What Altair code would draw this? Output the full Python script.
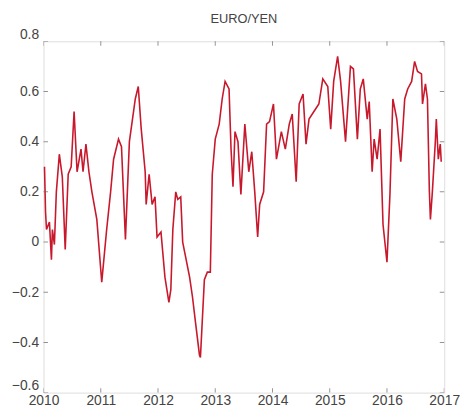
import altair as alt
import pandas as pd

# decimal-year positions and EURO/YEN values
years = [2010.017, 2010.035, 2010.052, 2010.103, 2010.138, 2010.155, 2010.190, 2010.224, 2010.276,
         2010.328, 2010.379, 2010.431, 2010.483, 2010.534, 2010.586, 2010.655, 2010.690, 2010.741,
         2010.793, 2010.845, 2010.931, 2011.017, 2011.103, 2011.172, 2011.224, 2011.310, 2011.362,
         2011.431, 2011.500, 2011.603, 2011.655, 2011.707, 2011.776, 2011.793, 2011.845, 2011.897,
         2011.948, 2011.983, 2012.052, 2012.121, 2012.190, 2012.224, 2012.259, 2012.310, 2012.345,
         2012.397, 2012.431, 2012.483, 2012.552, 2012.603, 2012.655, 2012.724, 2012.741, 2012.810,
         2012.862, 2012.914, 2012.948, 2013.000, 2013.069, 2013.121, 2013.172, 2013.241, 2013.276,
         2013.310, 2013.345, 2013.397, 2013.448, 2013.517, 2013.586, 2013.638, 2013.690, 2013.741,
         2013.776, 2013.845, 2013.897, 2013.948, 2014.017, 2014.069, 2014.155, 2014.224, 2014.293,
         2014.345, 2014.414, 2014.466, 2014.534, 2014.586, 2014.638, 2014.724, 2014.810, 2014.879,
         2014.966, 2015.017, 2015.069, 2015.138, 2015.190, 2015.276, 2015.362, 2015.414, 2015.483,
         2015.534, 2015.586, 2015.655, 2015.690, 2015.741, 2015.776, 2015.828, 2015.879, 2015.931,
         2016.000, 2016.052, 2016.103, 2016.172, 2016.241, 2016.310, 2016.362, 2016.431, 2016.483,
         2016.534, 2016.603, 2016.621, 2016.672, 2016.707, 2016.741, 2016.759, 2016.793, 2016.845,
         2016.862, 2016.897, 2016.931, 2016.948]
values = [0.30, 0.12, 0.05, 0.08, -0.07, 0.05, -0.01, 0.20, 0.35,
          0.26, -0.03, 0.27, 0.30, 0.52, 0.28, 0.37, 0.28, 0.39,
          0.28, 0.20, 0.09, -0.16, 0.05, 0.20, 0.33, 0.41, 0.38,
          0.01, 0.40, 0.57, 0.62, 0.45, 0.28, 0.15, 0.27, 0.15,
          0.18, 0.02, 0.04, -0.14, -0.24, -0.19, 0.05, 0.20, 0.17,
          0.18, 0.00, -0.06, -0.14, -0.22, -0.32, -0.45, -0.46, -0.15,
          -0.12, -0.12, 0.27, 0.41, 0.47, 0.57, 0.64, 0.61, 0.37,
          0.22, 0.44, 0.40, 0.19, 0.47, 0.28, 0.36, 0.20, 0.02,
          0.15, 0.20, 0.47, 0.48, 0.55, 0.33, 0.44, 0.37, 0.47,
          0.51, 0.24, 0.55, 0.59, 0.39, 0.49, 0.52, 0.55, 0.65,
          0.62, 0.45, 0.64, 0.74, 0.64, 0.40, 0.70, 0.69, 0.41,
          0.61, 0.65, 0.49, 0.56, 0.28, 0.41, 0.33, 0.45, 0.07,
          -0.08, 0.19, 0.57, 0.49, 0.32, 0.57, 0.61, 0.64, 0.72,
          0.68, 0.67, 0.55, 0.63, 0.57, 0.20, 0.09, 0.20, 0.40,
          0.49, 0.33, 0.39, 0.32]

x_ticks = [2010, 2011, 2012, 2013, 2014, 2015, 2016, 2017]
y_ticks = [-0.6, -0.4, -0.2, 0, 0.2, 0.4, 0.6, 0.8]
title_text = ["EURO/YEN"]

df = pd.DataFrame({"year": years, "value": values})
xt = pd.DataFrame({"t": x_ticks})
yt = pd.DataFrame({"t": y_ticks})
tt = pd.DataFrame({"label": title_text})

FONT = "Liberation Sans"
TXT = "#444444"
xscale = alt.Scale(domain=[2010, 2017], nice=False, zero=False)
yscale = alt.Scale(domain=[-0.6, 0.8], nice=False, zero=False)

line = alt.Chart(df).mark_line(color="#c8182c", strokeWidth=1.6).encode(
    x=alt.X("year:Q", scale=xscale, title=None,
            axis=alt.Axis(values=x_ticks, format="d", domain=False, ticks=False, grid=False,
                          labelFont=FONT, labelFontSize=14, labelColor=TXT, labelPadding=1,
                          labelFlush=False)),
    y=alt.Y("value:Q", scale=yscale, title=None,
            axis=alt.Axis(values=y_ticks, format="~g", domain=False, ticks=False, grid=False,
                          labelFont=FONT, labelFontSize=14, labelColor=TXT, labelPadding=5,
                          labelFlush=False,
                          labelBaseline={"condition": {"test": "datum.value < -0.5 || datum.value > 0.7",
                                                       "value": "bottom"}, "value": "middle"})),
)

tick_style = dict(color="#666666", size=9, thickness=1, clip=True)
bottom = alt.Chart(xt).mark_tick(orient="vertical", **tick_style).encode(
    x=alt.X("t:Q", scale=xscale), y=alt.datum(-0.6))
top = alt.Chart(xt).mark_tick(orient="vertical", **tick_style).encode(
    x=alt.X("t:Q", scale=xscale), y=alt.datum(0.8))
left = alt.Chart(yt).mark_tick(orient="horizontal", **tick_style).encode(
    y=alt.Y("t:Q", scale=yscale), x=alt.datum(2010))
right = alt.Chart(yt).mark_tick(orient="horizontal", **tick_style).encode(
    y=alt.Y("t:Q", scale=yscale), x=alt.datum(2017))

title = alt.Chart(tt).mark_text(font=FONT, fontSize=13, color=TXT, baseline="middle",
                                align="center").encode(
    text="label:N", x=alt.value(203), y=alt.value(-23))

chart = alt.layer(line, bottom, top, left, right, title).properties(
    width=406, height=356,
    padding={"left": 36, "top": 31, "right": 16, "bottom": 22},
    autosize="none",
).configure_view(stroke="#777777", strokeWidth=1.2).configure(background="white")

chart.save("out.html", embed_options={"renderer": "svg", "actions": False})
